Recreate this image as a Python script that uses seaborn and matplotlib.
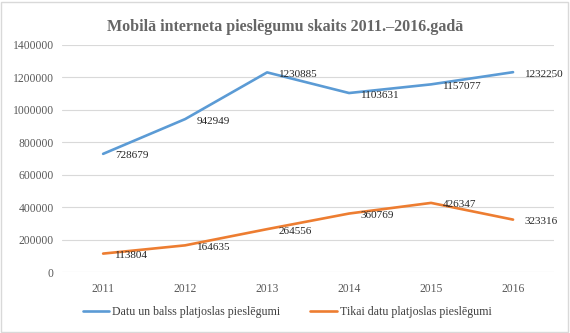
import matplotlib
matplotlib.use("Agg")
import matplotlib.pyplot as plt
import seaborn as sns
import pandas as pd
from matplotlib.patches import Rectangle

years = ["2011", "2012", "2013", "2014", "2015", "2016"]
datu_balss = [728679, 942949, 1230885, 1103631, 1157077, 1232250]
tikai_datu = [113804, 164635, 264556, 360769, 426347, 323316]
series_names = ["Datu un balss platjoslas pieslēgumi", "Tikai datu platjoslas pieslēgumi"]
title = "Mobilā interneta pieslēgumu skaits 2011.–2016.gadā"
yticks = [0, 200000, 400000, 600000, 800000, 1000000, 1200000, 1400000]

sns.set_theme(style="white")
plt.rcParams['font.family'] = ['Liberation Serif', 'DejaVu Serif']

df = pd.DataFrame({
    "year": years * 2,
    "value": datu_balss + tikai_datu,
    "series": [series_names[0]] * len(years) + [series_names[1]] * len(years),
})

colors = {series_names[0]: "#5B9BD5", series_names[1]: "#ED7D31"}

fig = plt.figure(figsize=(5.7, 3.33), dpi=100)
ax = fig.add_axes([0.109, 0.183, 0.863, 0.682])

sns.lineplot(data=df, x="year", y="value", hue="series", palette=colors,
             linewidth=1.9, ax=ax, sort=False, legend=True)

ax.set_xlim(-0.5, len(years) - 0.5)
ax.set_ylim(0, 1400000)
ax.set_yticks(yticks)
ax.set_yticklabels([str(v) for v in yticks])
ax.yaxis.grid(True, color="#D9D9D9", linewidth=0.8)
ax.xaxis.grid(False)
for s in ax.spines.values():
    s.set_visible(False)
ax.tick_params(axis="both", length=0, labelsize=8.4, colors="#595959")
ax.tick_params(axis="y", pad=6)
ax.tick_params(axis="x", pad=8)
ax.set_xlabel("")
ax.set_ylabel("")

for vals in (datu_balss, tikai_datu):
    for i, v in enumerate(vals):
        ax.annotate(str(v), (i, v), xytext=(8.5, -1.5), textcoords="offset points",
                    ha="left", va="center", fontsize=8, color="#262626")

fig.suptitle(title, x=0.5, y=0.942, fontsize=11.5, fontweight="bold", color="#666666")

handles, labels = ax.get_legend_handles_labels()
ax.legend(handles, labels, loc="upper center", bbox_to_anchor=(0.504, 0.095),
          bbox_transform=fig.transFigure, borderaxespad=0,
          ncol=2, frameon=False, fontsize=8.6, handlelength=2.2, handletextpad=0.3,
          columnspacing=2.5, labelcolor="#404040")

fig.patches.append(Rectangle((0.002, 0.003), 0.994, 0.992, transform=fig.transFigure,
                             fill=False, edgecolor="#D9D9D9", linewidth=1.0))

fig.savefig("out.png", dpi=100)
